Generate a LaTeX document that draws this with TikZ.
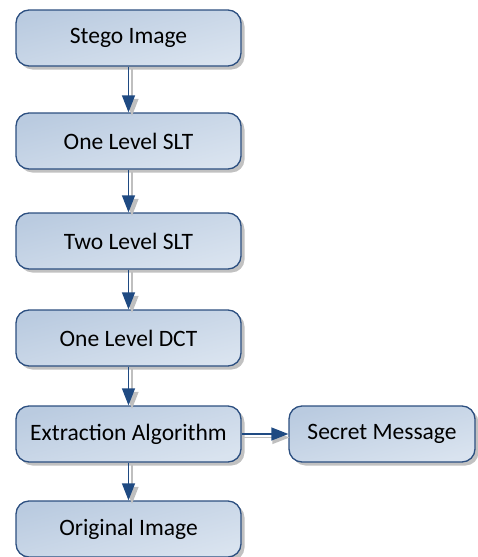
\documentclass[tikz,border=0pt]{standalone}
\usepackage{fontspec}
\setmainfont{Carlito}
\usetikzlibrary{arrows.meta,shadows}
\definecolor{boxline}{HTML}{2C4F80}
\definecolor{boxdark}{HTML}{BACBE0}
\definecolor{boxlight}{HTML}{D9E3EF}
\definecolor{arrowblue}{HTML}{1F4A82}
\tikzset{
  procbox/.style={draw=boxline, line width=1.3pt, rounded corners=13pt,
    shading=axis, top color=boxdark, bottom color=boxlight, shading angle=15,
    minimum width=225pt, minimum height=56pt, inner sep=0pt,
    font=\fontsize{23.5}{26}\selectfont,
    drop shadow={shadow xshift=3.5pt, shadow yshift=-3.5pt, fill=black!30, opacity=0.8}},
  flow/.style={draw=arrowblue, line width=1.3pt, -{Triangle[length=17pt,width=13pt]}},
  flowshadow/.style={draw=black!25, line width=1.3pt, -{Triangle[length=17pt,width=13pt]}},
}
\begin{document}
\begin{tikzpicture}[x=1pt,y=1pt]
\useasboundingbox (0,0) rectangle (478,-557);
\node[procbox] (stego) at (128.5,-38) {Stego Image};
\node[procbox] (slt1) at (128.5,-141) {One Level SLT};
\node[procbox] (slt2) at (128.5,-241) {Two Level SLT};
\node[procbox] (dct) at (128.5,-338) {One Level DCT};
\node[procbox] (extr) at (128.5,-434) {Extraction Algorithm};
\node[procbox] (orig) at (128.5,-529) {Original Image};
\node[procbox, minimum width=186pt] (secret) at (382,-434) {Secret Message};
\foreach \a/\b in {stego/slt1, slt1/slt2, slt2/dct, dct/extr, extr/orig}{
  \draw[flowshadow] ([xshift=3.5pt,yshift=-2pt]\a.south) -- ([xshift=3.5pt,yshift=-3.5pt]\b.north);
  \draw[flow] (\a.south) -- (\b.north);
}
\draw[flowshadow] ([xshift=1pt,yshift=-3.5pt]extr.east) -- ([xshift=1pt,yshift=-3.5pt]secret.west);
\draw[flow] (extr.east) -- (secret.west);
\end{tikzpicture}
\end{document}
